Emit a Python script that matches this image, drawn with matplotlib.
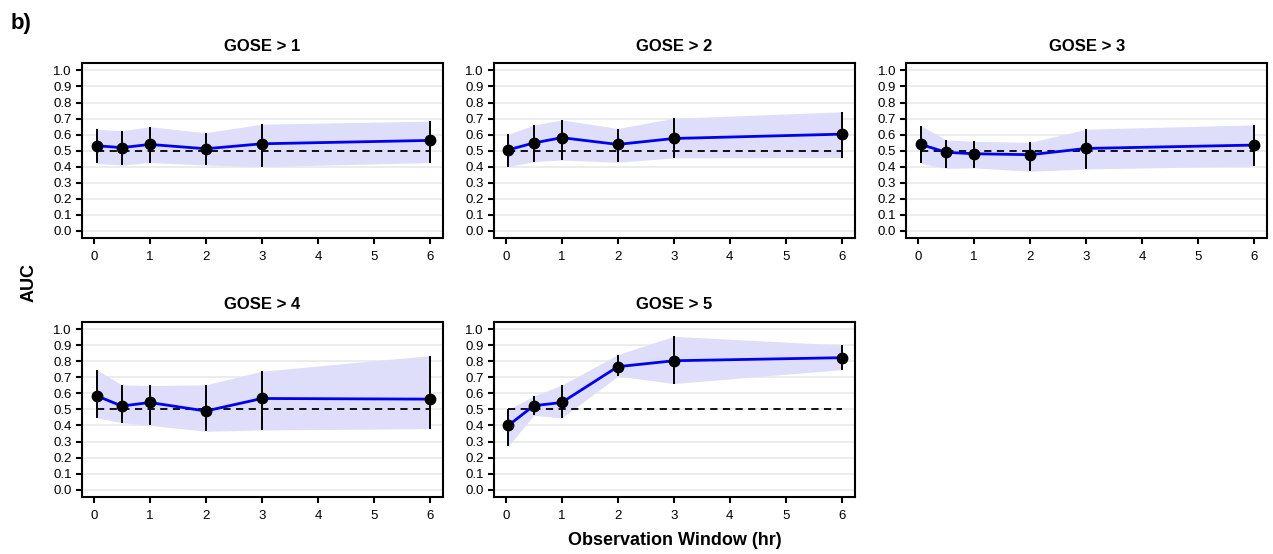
"""
AUC vs observation window for each GOSE threshold.
"""
import matplotlib.pyplot as plt
import numpy as np

plt.rcParams['font.family'] = ['Liberation Sans', 'DejaVu Sans']

# Observation windows (hr)
windows = [0.05, 0.5, 1, 2, 3, 6]

titles = ["GOSE > 1", "GOSE > 2", "GOSE > 3", "GOSE > 4", "GOSE > 5"]

auc_gose1 = [0.531, 0.519, 0.539, 0.512, 0.543, 0.564]
low_gose1 = [0.421, 0.411, 0.426, 0.411, 0.401, 0.426]
high_gose1 = [0.634, 0.624, 0.649, 0.612, 0.665, 0.684]

auc_gose2 = [0.506, 0.548, 0.581, 0.539, 0.576, 0.603]
low_gose2 = [0.401, 0.432, 0.442, 0.428, 0.455, 0.457]
high_gose2 = [0.603, 0.659, 0.692, 0.638, 0.702, 0.742]

auc_gose3 = [0.539, 0.490, 0.481, 0.475, 0.514, 0.535]
low_gose3 = [0.421, 0.390, 0.393, 0.372, 0.386, 0.405]
high_gose3 = [0.655, 0.568, 0.558, 0.552, 0.634, 0.661]

auc_gose4 = [0.585, 0.521, 0.543, 0.490, 0.568, 0.564]
low_gose4 = [0.448, 0.417, 0.401, 0.364, 0.372, 0.380]
high_gose4 = [0.748, 0.653, 0.649, 0.653, 0.738, 0.835]

auc_gose5 = [0.401, 0.523, 0.543, 0.766, 0.803, 0.822]
low_gose5 = [0.273, 0.463, 0.446, 0.707, 0.661, 0.748]
high_gose5 = [0.500, 0.583, 0.651, 0.841, 0.955, 0.901]

aucs = [auc_gose1, auc_gose2, auc_gose3, auc_gose4, auc_gose5]
lows = [low_gose1, low_gose2, low_gose3, low_gose4, low_gose5]
highs = [high_gose1, high_gose2, high_gose3, high_gose4, high_gose5]

fig = plt.figure(figsize=(12.73, 5.54), dpi=100)

# Panel positions [left, bottom, width, height] in figure fraction
lefts = [0.0644, 0.388, 0.712, 0.0644, 0.388]
bottoms = [0.570, 0.570, 0.570, 0.103, 0.103]
width = 0.2835
height = 0.316

for i in range(5):
    ax = fig.add_axes([lefts[i], bottoms[i], width, height])
    x = np.array(windows)
    auc = np.array(aucs[i])
    lo = np.array(lows[i])
    hi = np.array(highs[i])

    # Horizontal grid only
    for yv in np.arange(0, 1.01, 0.1):
        ax.axhline(yv, color="#ebebeb", lw=1.3, zorder=0)

    ax.fill_between(x, lo, hi, color="#dedefa", lw=0, zorder=1)
    ax.plot([x[0], x[-1]], [0.5, 0.5], ls=(0, (4, 3)), color="black", lw=1.3, zorder=2)
    ax.plot(x, auc, color="#0000ee", lw=2, zorder=3)
    ax.vlines(x, lo, hi, color="black", lw=1.4, zorder=4)
    ax.plot(x, auc, "o", color="black", ms=7.5, zorder=5)

    ax.set_xlim(-0.21, 6.23)
    ax.set_ylim(-0.045, 1.045)
    ax.set_xticks(range(7))
    ax.set_yticks(np.arange(0, 1.01, 0.1))
    ax.set_yticklabels(["{:.1f}".format(v) for v in np.arange(0, 1.01, 0.1)])
    ax.tick_params(direction="out", length=4.5, width=1.5, labelsize=9.5, colors="black")
    ax.tick_params(axis="x", pad=5)
    ax.tick_params(axis="y", pad=3)
    for s in ax.spines.values():
        s.set_linewidth(1.5)
        s.set_color("black")
    ax.set_title(titles[i], fontsize=12, fontweight="bold", pad=9)

fig.text(0.023, 0.49, "AUC", rotation=90, fontsize=13, fontweight="bold", ha="center", va="center")
fig.text(0.530, 0.025, "Observation Window (hr)", fontsize=13, fontweight="bold", ha="center", va="center")
fig.text(0.008, 0.958, "b)", fontsize=16, fontweight="bold", ha="left", va="center")

plt.savefig("out.png", dpi=100)
